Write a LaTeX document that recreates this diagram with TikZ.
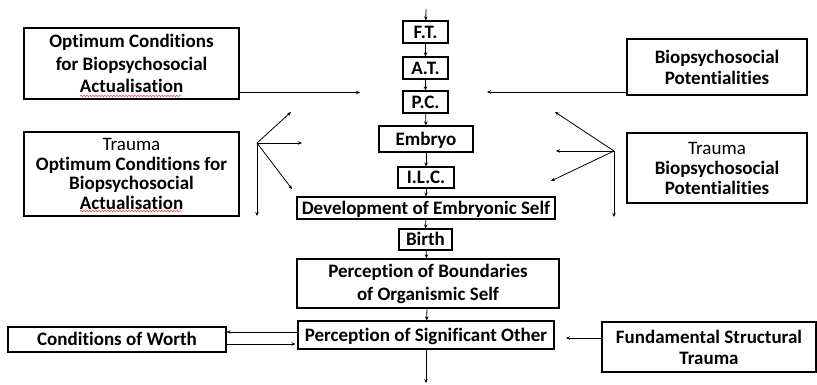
\documentclass[tikz,border=0pt]{standalone}
\usepackage{fontspec}
\setmainfont{Carlito}[Ligatures={NoCommon}]
\usetikzlibrary{arrows.meta,decorations.pathmorphing}
\begin{document}
\begin{tikzpicture}[x=1pt,y=-1pt,
  box/.style={draw, line width=1.1pt, inner sep=0pt, align=center,
    font=\bfseries\fontsize{19}{22.5}\selectfont},
  one/.style={text height=12.5pt, text depth=0pt},
  sz/.style 2 args={minimum width=#1pt, minimum height=#2pt},
  tight/.style={font=\bfseries\fontsize{19}{#1}\selectfont},
  arr/.style={-{Stealth[length=4pt,width=3.5pt]}, line width=0.8pt},
  squiggle/.style={red!75!white, line width=0.5pt,
    decorate, decoration={snake, amplitude=0.9pt, segment length=3pt}}]
\useasboundingbox (0,0) rectangle (817,385);

% central chain
\node[box, one, sz={45}{22}] (ft) at (425.5,32) {F.T.};
\node[box, one, sz={45}{22}] (at) at (425.5,68) {A.T.};
\node[box, one, sz={45}{22}] (pc) at (425.5,102) {P.C.};
\node[box, one, sz={94}{26}] (emb) at (426,139) {Embryo};
\node[box, one, sz={56}{21}] (ilc) at (426,177.5) {I.L.C.};
\node[box, one, sz={258}{22}] (dev) at (426,208) {Development of Embryonic Self};
\node[box, one, sz={53}{21}] (birth) at (425.5,239.5) {Birth};
\node[box, sz={262}{49}, tight=23] (pob) at (428,283.5) {Perception of Boundaries\\of Organismic Self};
\node[box, one, sz={256}{28}] (pso) at (426,335) {Perception of Significant Other};

% side boxes
\node[box, sz={215}{71}] (opt) at (131.5,63.5) {Optimum Conditions\\for Biopsychosocial\\Actualisation};
\node[box, sz={180}{56}, tight=21] (bp) at (717,67) {Biopsychosocial\\Potentialities};
\node[box, sz={215}{84}, tight=19.5] (tl) at (131.5,174) {{\mdseries Trauma}\\Optimum Conditions for\\Biopsychosocial\\Actualisation};
\node[box, sz={180}{70}, tight=20] (tr) at (717,168) {{\mdseries Trauma}\\Biopsychosocial\\Potentialities};
\node[box, one, sz={218}{25}] (cow) at (117,339.5) {Conditions of Worth};
\node[box, sz={214}{50}, tight=21] (fst) at (709,347) {Fundamental Structural\\Trauma};

% spell-check underlines
\draw[squiggle] (80,96) -- (182,96);
\draw[squiggle] (80,211) -- (182,211);

% free ends
\coordinate (top) at (426,9);
\coordinate (bottom) at (426,383);
\coordinate (lin) at (360,92.5);
\coordinate (rin) at (487,92);
\coordinate (fin) at (566,338);
\coordinate (lf) at (257,143);
\coordinate (lf1) at (291,112);
\coordinate (lf2) at (302,143);
\coordinate (lf3) at (292,189);
\coordinate (lf4) at (257,216);
\coordinate (rf) at (614,151);
\coordinate (rf1) at (555,112);
\coordinate (rf2) at (556,151);
\coordinate (rf3) at (551,181);
\coordinate (rf4) at (614,217);

% chain connectors
\draw[arr] (top) -- (ft);
\draw[arr] (ft) -- (at);
\draw[arr] (at) -- (pc);
\draw[arr] (pc) -- (emb);
\draw[arr] (emb) -- (ilc);
\draw[arr] (ilc) -- (dev);
\draw[arr] (dev) -- (birth);
\draw[arr] (birth) -- (pob);
\draw[arr] (pob) -- (pso);
\draw[arr] (pso) -- (bottom);

% inputs from the side boxes
\draw[arr] (opt.east |- lin) -- (lin);
\draw[arr] (bp.west |- rin) -- (rin);
\draw[arr] (fst.west |- fin) -- (fin);

% trauma fans
\foreach \t in {lf1,lf2,lf3,lf4} \draw[arr] (lf) -- (\t);
\foreach \t in {rf1,rf2,rf3,rf4} \draw[arr] (rf) -- (\t);

% exchange with conditions of worth
\draw[arr] ([yshift=3pt]pso.west) -- ([yshift=7.5pt]cow.east);
\draw[arr] ([yshift=-4.5pt]cow.east) -- ([yshift=-9pt,xshift=-2pt]pso.west);
\end{tikzpicture}
\end{document}
